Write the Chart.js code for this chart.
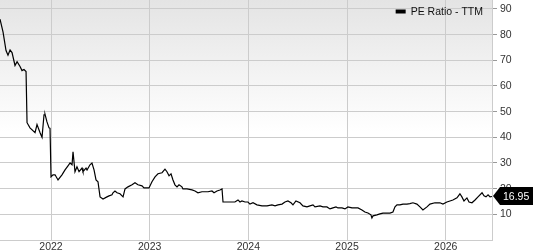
<!DOCTYPE html>
<html>
<head>
<meta charset="utf-8">
<script src="https://cdn.jsdelivr.net/npm/chart.js@4/dist/chart.umd.min.js"></script>
<style>
  html, body { margin: 0; padding: 0; background: #fff; overflow: hidden; }
  #wrap { width: 533px; height: 250px; position: relative; }
</style>
</head>
<body>
<div id="wrap"><canvas id="pe-chart"></canvas></div>
<script>
// time as decimal years
const years = [
  2021.483, 2021.514, 2021.544, 2021.564, 2021.585, 2021.605, 2021.635, 2021.656, 2021.686, 2021.706,
  2021.726, 2021.747, 2021.757, 2021.787, 2021.838, 2021.858, 2021.889, 2021.909, 2021.929, 2021.939,
  2021.959, 2021.980, 2021.990, 2022.000, 2022.020, 2022.041, 2022.071, 2022.111, 2022.142, 2022.172,
  2022.193, 2022.213, 2022.223, 2022.243, 2022.263, 2022.284, 2022.314, 2022.324, 2022.355, 2022.365,
  2022.395, 2022.415, 2022.436, 2022.456, 2022.476, 2022.497, 2022.527, 2022.567, 2022.588, 2022.618,
  2022.628, 2022.648, 2022.669, 2022.699, 2022.730, 2022.750, 2022.780, 2022.821, 2022.851, 2022.881,
  2022.922, 2022.942, 2022.993, 2023.023, 2023.054, 2023.084, 2023.125, 2023.155, 2023.175, 2023.196,
  2023.216, 2023.236, 2023.256, 2023.277, 2023.297, 2023.327, 2023.337, 2023.378, 2023.429, 2023.459,
  2023.489, 2023.530, 2023.591, 2023.631, 2023.652, 2023.682, 2023.712, 2023.733, 2023.743, 2023.814,
  2023.864, 2023.895, 2023.915, 2023.935, 2023.966, 2023.996, 2024.016, 2024.047, 2024.087, 2024.138,
  2024.189, 2024.239, 2024.270, 2024.300, 2024.341, 2024.371, 2024.401, 2024.432, 2024.452, 2024.482,
  2024.523, 2024.553, 2024.594, 2024.624, 2024.655, 2024.675, 2024.726, 2024.756, 2024.796, 2024.827,
  2024.857, 2024.888, 2024.908, 2024.949, 2024.979, 2025.009, 2025.050, 2025.111, 2025.151, 2025.181,
  2025.212, 2025.242, 2025.252, 2025.263, 2025.303, 2025.333, 2025.364, 2025.435, 2025.465, 2025.486,
  2025.506, 2025.536, 2025.567, 2025.607, 2025.637, 2025.668, 2025.708, 2025.739, 2025.769, 2025.810,
  2025.840, 2025.891, 2025.941, 2025.972, 2026.012, 2026.043, 2026.073, 2026.114, 2026.144, 2026.164,
  2026.185, 2026.215, 2026.236, 2026.266, 2026.297, 2026.327, 2026.368, 2026.388, 2026.408, 2026.429,
  2026.449, 2026.469
];

const peRatio = [
  86, 81, 73.8, 72, 74, 73, 68, 69.5, 67.6, 66,
  66.4, 65.6, 45.7, 43.7, 41.8, 45, 41.8, 40, 48.8, 49,
  46, 43.7, 43.5, 24.6, 25.4, 25.4, 23.4, 25.4, 27.3, 28.9,
  30, 29.3, 34.4, 26.6, 28.5, 26.6, 28, 26.6, 28, 27.3,
  29.3, 30, 27.3, 23.4, 22.7, 16.8, 16, 16.8, 17.2, 17.6,
  18.4, 19.1, 18.4, 18, 16.8, 19.9, 20.7, 21.5, 22.3, 21.5,
  21.1, 20.3, 20.3, 22.7, 24.6, 25.8, 26.2, 27.6, 26.6, 25,
  25.8, 23.4, 21.5, 20.7, 21.5, 20.7, 19.9, 19.9, 19.5, 19.1,
  18.4, 18.8, 18.8, 19.1, 18.4, 19.1, 19.5, 19.9, 14.8, 14.8,
  14.8, 15.6, 14.8, 15.2, 14.8, 14.8, 14, 14.5, 13.7, 13.3,
  13.3, 13.7, 13.3, 13.7, 14, 14.8, 15.2, 14.5, 13.7, 15.2,
  14.5, 13.3, 12.9, 13.3, 13.7, 12.9, 13.3, 12.9, 12.9, 12.1,
  12.5, 12.9, 12.5, 12.5, 12.1, 12.9, 12.5, 12.5, 11.7, 10.9,
  10.5, 9.8, 8.6, 9.4, 9.8, 10.2, 10.5, 10.5, 10.9, 12.9,
  13.7, 13.7, 14, 14, 14.2, 14.5, 14, 12.9, 11.7, 12.9,
  14, 14.5, 14.5, 14, 14.8, 15.2, 15.6, 16.4, 18, 16.8,
  15.2, 16.4, 14.8, 14.5, 15.6, 16.8, 18.4, 17.2, 16.8, 17.6,
  16.8, 16.95
];

const yearTicks = [2022, 2023, 2024, 2025, 2026];
const valueTicks = [10, 20, 30, 40, 50, 60, 70, 80, 90];
const seriesName = "PE Ratio - TTM";

const FONT = { family: "'Liberation Sans', Arial, sans-serif", size: 10.5 };

// gray-to-white backdrop behind the plot
const plotBackground = {
  id: "plotBackground",
  beforeDraw(chart) {
    const { ctx, chartArea: a } = chart;
    const g = ctx.createLinearGradient(0, a.top, 0, a.top + a.height * 0.55);
    g.addColorStop(0, "#e4e4e4");
    g.addColorStop(1, "#ffffff");
    ctx.save();
    ctx.fillStyle = g;
    ctx.fillRect(a.left, a.top, a.width, a.height);
    ctx.restore();
  }
};

// legend floating in the top right corner of the plot
const floatingLegend = {
  id: "floatingLegend",
  afterDatasetsDraw(chart) {
    const { ctx, chartArea: a } = chart;
    const ds = chart.data.datasets[0];
    ctx.save();
    ctx.font = FONT.size + "px " + FONT.family;
    const tw = ctx.measureText(ds.label).width;
    const tx = a.right - 9 - tw;
    const ty = a.top + 12;
    ctx.fillStyle = ds.borderColor;
    ctx.fillRect(tx - 15, ty - 2.5, 10, 4);
    ctx.fillStyle = "#111";
    ctx.textBaseline = "middle";
    ctx.fillText(ds.label, tx, ty);
    ctx.restore();
  }
};

// black flag with last value on the right axis
const lastValueFlag = {
  id: "lastValueFlag",
  afterDraw(chart) {
    const meta = chart.getDatasetMeta(0);
    const pt = meta.data[meta.data.length - 1];
    const val = chart.data.datasets[0].data[meta.data.length - 1].y;
    const { ctx } = chart;
    const x = chart.chartArea.right + 1, y = Math.round(pt.y);
    ctx.save();
    ctx.fillStyle = "#000";
    ctx.beginPath();
    ctx.moveTo(x, y);
    ctx.lineTo(x + 7, y - 9);
    ctx.lineTo(chart.width, y - 9);
    ctx.lineTo(chart.width, y + 9);
    ctx.lineTo(x + 7, y + 9);
    ctx.closePath();
    ctx.fill();
    ctx.fillStyle = "#fff";
    ctx.font = FONT.size + "px " + FONT.family;
    ctx.textBaseline = "middle";
    ctx.fillText(val.toFixed(2), x + 10, y + 1);
    ctx.restore();
  }
};

new Chart(document.getElementById("pe-chart"), {
  type: "line",
  data: {
    datasets: [{
      label: seriesName,
      data: years.map((t, i) => ({ x: t, y: peRatio[i] })),
      borderColor: "#000",
      backgroundColor: "#000",
      borderWidth: 1.2,
      pointRadius: 0,
      tension: 0,
      fill: false
    }]
  },
  options: {
    responsive: true,
    maintainAspectRatio: false,
    animation: false,
    layout: { padding: 0 },
    plugins: {
      tooltip: { enabled: false },
      legend: { display: false }
    },
    scales: {
      x: {
        type: "linear",
        min: years[0],
        max: years[years.length - 1],
        afterBuildTicks: s => { s.ticks = yearTicks.map(v => ({ value: v })); },
        afterFit: s => { s.height = 10; s.paddingLeft = 0; s.paddingRight = 0; },
        grid: { color: "#cccccc", drawTicks: false },
        border: { display: true, color: "#cccccc" },
        ticks: {
          padding: 1,
          color: "#333",
          font: FONT,
          maxRotation: 0,
          callback: v => String(v)
        }
      },
      y: {
        position: "right",
        min: 0,
        max: 93.5,
        afterBuildTicks: s => { s.ticks = valueTicks.map(v => ({ value: v })); },
        afterFit: s => { s.width = 41; s.paddingTop = 0; s.paddingBottom = 0; },
        grid: { color: "#cccccc", tickLength: 5, tickColor: "#999" },
        border: { display: true, color: "#cccccc" },
        ticks: {
          padding: 3,
          color: "#333",
          font: FONT
        }
      }
    }
  },
  plugins: [plotBackground, floatingLegend, lastValueFlag]
});
</script>
</body>
</html>
